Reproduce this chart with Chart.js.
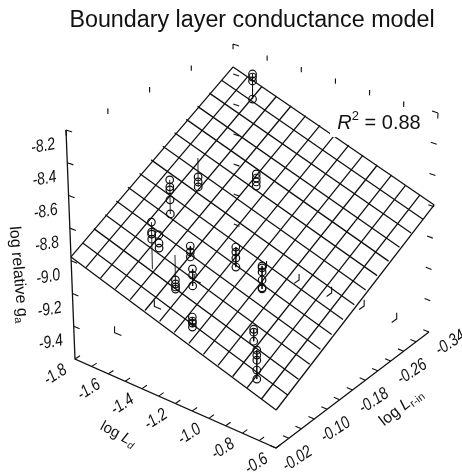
<!DOCTYPE html>
<html>
<head>
<meta charset="utf-8">
<title>Boundary layer conductance model</title>
<script src="https://cdn.jsdelivr.net/npm/chart.js@4"></script>
<style>
body { margin: 0; background: #fff; }
canvas { display: block; }
</style>
</head>
<body>
<canvas id="mycanvas" width="462" height="474"></canvas>
<script>
// axis values
var ldTicks = [-1.8, -1.6, -1.4, -1.2, -1.0, -0.8, -0.6];
var ldMinor = [-1.7, -1.5, -1.3, -1.1, -0.9, -0.7];
var lrTicks = [-0.02, -0.10, -0.18, -0.26, -0.34];
var lrMinor = [-0.047, -0.073, -0.127, -0.153, -0.207, -0.233, -0.287, -0.313];
var gaTicks = [-8.2, -8.4, -8.6, -8.8, -9.0, -9.2, -9.4];

// model surface grid
var gridLd = [-1.8, -1.714, -1.629, -1.543, -1.457, -1.371, -1.286, -1.2, -1.114, -1.029, -0.943, -0.857, -0.771, -0.686, -0.6];
var gridLr = [-0.02, -0.043, -0.066, -0.089, -0.111, -0.134, -0.157, -0.18, -0.203, -0.226, -0.249, -0.271, -0.294, -0.317, -0.34];
var surfFront = [-8.976, -9.005, -9.034, -9.063, -9.092, -9.121, -9.150, -9.180, -9.209, -9.238, -9.267, -9.296, -9.325, -9.354, -9.383];
var surfBack = [-8.353, -8.384, -8.415, -8.446, -8.477, -8.508, -8.539, -8.571, -8.602, -8.633, -8.664, -8.695, -8.726, -8.757, -8.788];
var surfLeft = [-8.976, -8.932, -8.887, -8.843, -8.798, -8.754, -8.709, -8.665, -8.620, -8.576, -8.531, -8.487, -8.442, -8.398, -8.353];
var surfRight = [-9.383, -9.341, -9.298, -9.256, -9.213, -9.171, -9.128, -9.086, -9.043, -9.001, -8.958, -8.916, -8.873, -8.831, -8.788];

// measured points
var pointLd = [-1.631, -1.631, -1.631, -1.631,
	-1.646, -1.646, -1.646,
	-1.644, -1.644, -1.644, -1.644, -1.644,
	-1.472, -1.472, -1.472, -1.472,
	-1.472, -1.472, -1.472,
	-1.433, -1.433, -1.433, -1.433,
	-1.387, -1.387, -1.387,
	-1.310, -1.310, -1.310,
	-1.169, -1.169, -1.169, -1.169,
	-1.368, -1.368, -1.368, -1.368,
	-1.213, -1.213, -1.213, -1.213,
	-1.052, -1.052, -1.052, -1.052, -1.052, -1.052,
	-0.906, -0.906, -0.906,
	-0.850, -0.850, -0.850, -0.850, -0.850];
var pointLr = [-0.322, -0.322, -0.322, -0.322,
	-0.220, -0.220, -0.220,
	-0.164, -0.164, -0.164, -0.164, -0.164,
	-0.070, -0.070, -0.070, -0.070,
	-0.084, -0.084, -0.084,
	-0.102, -0.102, -0.102, -0.102,
	-0.117, -0.117, -0.117,
	-0.095, -0.095, -0.095,
	-0.046, -0.046, -0.046, -0.046,
	-0.242, -0.242, -0.242, -0.242,
	-0.149, -0.149, -0.149, -0.149,
	-0.147, -0.147, -0.147, -0.147, -0.147, -0.147,
	-0.080, -0.080, -0.080,
	-0.067, -0.067, -0.067, -0.067, -0.067];
var pointGa = [-8.302, -8.322, -8.348, -8.467,
	-8.787, -8.819, -8.851,
	-8.700, -8.744, -8.763, -8.826, -8.915,
	-8.722, -8.783, -8.795, -8.826,
	-8.826, -8.875, -8.906,
	-9.119, -9.144, -9.162, -9.175,
	-8.921, -8.957, -8.988,
	-8.988, -9.025, -9.091,
	-9.126, -9.150, -9.162, -9.186,
	-8.699, -8.725, -8.750, -8.776,
	-8.918, -8.949, -8.986, -9.041,
	-8.965, -8.977, -9.002, -9.051, -9.099, -9.105,
	-9.157, -9.174, -9.228,
	-9.232, -9.261, -9.291, -9.349, -9.402];

// residual lines from the points to the surface
var stemLd = [-1.631, -1.646, -1.644, -1.472, -1.433, -1.387, -1.310, -1.169, -1.213, -1.052, -0.906, -0.850];
var stemLr = [-0.322, -0.220, -0.164, -0.070, -0.102, -0.117, -0.095, -0.046, -0.149, -0.147, -0.080, -0.067];
var stemTop = [-8.302, -8.666, -8.700, -8.722, -8.966, -8.921, -8.988, -9.126, -8.918, -8.965, -9.157, -9.232];
var stemEnd = [-8.467, -8.851, -8.915, -9.008, -9.175, -8.988, -9.091, -9.186, -9.041, -9.105, -9.228, -9.402];

// box corners on the page, floor then top, used to project the three axes
var floorPx = { a: [75, 359], b: [276, 448], c: [429, 332], d: [234, 254] };
var topPx = { a: [66, 130], b: [277, 203], c: [438, 113], d: [233, 44] };

function project(ld, lr, ga) {
	var u = (ld + 1.8) / 1.2;
	var v = (lr + 0.02) / -0.32;
	var w = (ga + 9.6) / 1.4;
	var out = [0, 0];
	for (var i = 0; i < 2; i++) {
		var f = (1 - u) * (1 - v) * floorPx.a[i] + u * (1 - v) * floorPx.b[i] + u * v * floorPx.c[i] + (1 - u) * v * floorPx.d[i];
		var t = (1 - u) * (1 - v) * topPx.a[i] + u * (1 - v) * topPx.b[i] + u * v * topPx.c[i] + (1 - u) * v * topPx.d[i];
		out[i] = f + (t - f) * w;
	}
	return { x: out[0], y: out[1] };
}

function addSeg(list, p, q) {
	list.push(project(p[0], p[1], p[2]));
	list.push(project(q[0], q[1], q[2]));
	list.push({ x: NaN, y: NaN });
}

var gridData = [];
for (var i = 0; i < gridLd.length; i++) {
	addSeg(gridData, [gridLd[i], -0.02, surfFront[i]], [gridLd[i], -0.34, surfBack[i]]);
	addSeg(gridData, [-1.8, gridLr[i], surfLeft[i]], [-0.6, gridLr[i], surfRight[i]]);
}

var axisData = [project(-1.8, -0.02, -8.2), project(-1.8, -0.02, -9.6), project(-0.6, -0.02, -9.6), project(-0.6, -0.34, -9.6)];

var tickData = [];
gaTicks.forEach(function(g) {
	addSeg(tickData, [-1.8, -0.02, g], [-1.765, -0.02, g]);
	addSeg(tickData, [-1.8, -0.34, g], [-1.765, -0.34, g]);
	addSeg(tickData, [-0.6, -0.34, g], [-0.635, -0.34, g]);
});
ldTicks.concat(ldMinor).forEach(function(d) {
	addSeg(tickData, [d, -0.02, -9.6], [d, -0.03, -9.6]);
});
lrTicks.concat(lrMinor).forEach(function(r) {
	addSeg(tickData, [-0.6, r, -9.6], [-0.635, r, -9.6]);
});
// ticks on the hidden back edges of the box
lrTicks.forEach(function(r) {
	addSeg(tickData, [-1.8, r, -8.2], [-1.8, r, -8.235]);
	if (r != -0.02 && r != -0.34) {
		addSeg(tickData, [-1.8, r, -9.6], [-1.8, r, -9.56]);
		addSeg(tickData, [-1.8, r, -9.6], [-1.76, r, -9.6]);
	}
});
ldTicks.forEach(function(d) {
	addSeg(tickData, [d, -0.34, -8.2], [d, -0.34, -8.235]);
	if (d != -1.8 && d != -0.6) {
		addSeg(tickData, [d, -0.34, -9.6], [d, -0.34, -9.56]);
		addSeg(tickData, [d, -0.34, -9.6], [d, -0.33, -9.6]);
	}
});
addSeg(tickData, [-0.6, -0.34, -8.2], [-0.63, -0.34, -8.2]);

var stemData = [];
for (var s = 0; s < stemLd.length; s++) {
	addSeg(stemData, [stemLd[s], stemLr[s], stemTop[s]], [stemLd[s], stemLr[s], stemEnd[s]]);
}

var pointData = [];
for (var p = 0; p < pointLd.length; p++) {
	pointData.push(project(pointLd[p], pointLr[p], pointGa[p]));
}

function lineSet(data, width) {
	return {
		data: data,
		showLine: true,
		spanGaps: false,
		borderColor: "#111",
		borderWidth: width,
		pointRadius: 0,
		clip: false
	};
}

// draws a run of text pieces along a rotated baseline, centred on x,y
function textRuns(ctx, runs, x, y, angle, tall) {
	ctx.save();
	ctx.translate(x, y);
	ctx.rotate(angle * Math.PI / 180);
	if (tall) ctx.scale(1, tall);
	ctx.textBaseline = "alphabetic";
	ctx.textAlign = "left";
	ctx.fillStyle = "#111";
	var w = 0;
	runs.forEach(function(r) {
		ctx.font = r.font;
		w += ctx.measureText(r.text).width;
	});
	var cx = -w / 2;
	runs.forEach(function(r) {
		ctx.font = r.font;
		ctx.fillText(r.text, cx, r.dy || 0);
		cx += ctx.measureText(r.text).width;
	});
	ctx.restore();
}

var SANS = '"Liberation Sans", Arial, sans-serif';
var labelPlugin = {
	id: "labels3d",
	afterDatasetsDraw: function(chart) {
		var ctx = chart.ctx;
		var tickFont = "italic 14px " + SANS;
		// white patch behind the R2 note, it cuts the surface edge
		ctx.fillStyle = "#fff";
		ctx.fillRect(330, 108, 95, 29);

		gaTicks.forEach(function(g) {
			var t = project(-1.8, -0.02, g);
			textRuns(ctx, [{ text: g.toFixed(1), font: tickFont }], t.x - 22, t.y + 21, -10, 1.25);
		});
		ldTicks.forEach(function(d) {
			var t = project(d, -0.02, -9.6);
			textRuns(ctx, [{ text: d.toFixed(1), font: tickFont }], t.x - 17, t.y + 20, -33, 1.25);
		});
		lrTicks.forEach(function(r) {
			var t = project(-0.6, r, -9.6);
			textRuns(ctx, [{ text: r.toFixed(2), font: tickFont }], t.x + 24, t.y + 15, -33, 1.25);
		});

		textRuns(ctx, [
			{ text: "log ", font: "15px " + SANS },
			{ text: "L", font: "italic 15px " + SANS },
			{ text: "d", font: "italic 10px " + SANS, dy: 3 }
		], 116, 438, 28);
		textRuns(ctx, [
			{ text: "log ", font: "16px " + SANS },
			{ text: "L", font: "italic 16px " + SANS },
			{ text: "r-in", font: "11px " + SANS, dy: 3 }
		], 404, 411, -38);
		textRuns(ctx, [
			{ text: "log relative g", font: "16px " + SANS },
			{ text: "a", font: "11px " + SANS, dy: 3 }
		], 14, 275, 85);

		textRuns(ctx, [
			{ text: "R", font: "italic 20px " + SANS },
			{ text: "2", font: "13px " + SANS, dy: -9 },
			{ text: " = 0.88", font: "20px " + SANS }
		], 379, 129, 0);
	}
};

var new_chart = new Chart(document.getElementById("mycanvas"), {
	type: "scatter",
	data: {
		datasets: [
			lineSet(gridData, 1.3),
			lineSet(axisData, 1.3),
			lineSet(tickData, 1.1),
			lineSet(stemData, 0.9),
			{
				data: pointData,
				showLine: false,
				pointRadius: 3.8,
				pointBorderWidth: 1.2,
				pointBorderColor: "#111",
				pointBackgroundColor: "rgba(0,0,0,0)",
				clip: false
			}
		]
	},
	options: {
		responsive: false,
		animation: false,
		layout: { autoPadding: false, padding: { left: 42 } },
		scales: {
			x: { type: "linear", min: 42, max: 462, display: false },
			y: { type: "linear", min: 38, max: 474, reverse: true, display: false }
		},
		plugins: {
			legend: { display: false },
			tooltip: { enabled: false },
			title: {
				display: true,
				fullSize: false,
				text: "Boundary layer conductance model",
				color: "#111",
				font: { family: SANS, size: 23.3, weight: "normal", lineHeight: 1.2 },
				padding: { top: 7, bottom: 3 }
			}
		}
	},
	plugins: [labelPlugin]
});
</script>
</body>
</html>
